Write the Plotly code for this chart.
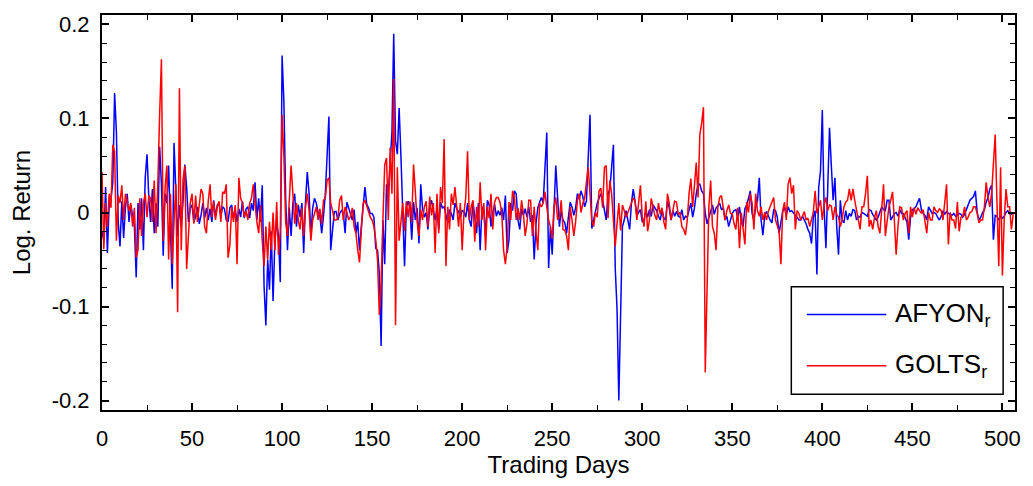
import plotly.graph_objects as go

# Daily log returns of the two stocks (trading day index starts at 0)
afyon_r = [
    -0.020, -0.030, 0.027, -0.043, 0.010, 0.015, 0.032, 0.127, 0.085, -0.010,
    -0.036, 0.012, -0.027, 0.005, 0.020, -0.010, 0.008, -0.005, -0.015, -0.069,
    0.010, -0.018, 0.015, -0.040, 0.037, 0.062, 0.015, -0.010, 0.025, -0.022,
    0.010, -0.015, 0.070, 0.030, -0.046, 0.020, 0.010, 0.050, -0.020, -0.081,
    0.074, 0.030, -0.025, 0.008, -0.015, 0.012, 0.051, 0.027, -0.010, 0.005,
    0.008, -0.010, -0.004, 0.006, -0.012, -0.003, 0.010, -0.006, 0.005, -0.008,
    0.004, -0.010, 0.013, -0.005, 0.008, 0.010, -0.004, 0.006, 0.004, -0.008,
    -0.010, 0.005, 0.008, -0.006, 0.003, -0.010, 0.004, -0.005, 0.012, -0.006,
    0.004, 0.006, -0.006, 0.010, 0.002, 0.032, -0.008, 0.015, -0.010, 0.029,
    -0.078, -0.120, -0.050, -0.082, -0.020, -0.094, -0.030, -0.010, -0.025, -0.074,
    0.167, 0.118, 0.015, -0.040, 0.005, -0.025, 0.010, 0.020, -0.015, 0.008,
    -0.005, 0.010, -0.043, 0.011, 0.043, 0.020, -0.025, 0.005, 0.015, 0.010,
    0.000, -0.004, -0.022, -0.004, 0.020, 0.060, 0.102, -0.040, -0.015, 0.001,
    0.001, -0.008, -0.001, 0.002, -0.001, -0.022, 0.011, 0.004, -0.003, -0.008,
    0.003, -0.022, -0.010, -0.040, -0.015, 0.010, 0.027, 0.009, 0.005, -0.001,
    -0.001, -0.005, -0.038, -0.040, -0.064, -0.142, -0.008, -0.055, 0.030, 0.020,
    0.050, 0.085, 0.190, 0.076, 0.062, 0.111, 0.060, 0.010, -0.057, 0.005,
    0.012, 0.005, -0.029, 0.011, -0.008, 0.005, -0.033, 0.030, 0.004, -0.005,
    0.000, -0.018, 0.006, 0.013, 0.002, -0.008, 0.004, -0.018, 0.011, 0.005,
    0.006, -0.004, -0.011, 0.003, -0.001, -0.008, 0.010, 0.004, 0.001, -0.005,
    0.002, 0.001, -0.005, 0.010, -0.008, -0.015, 0.011, -0.004, -0.022, 0.010,
    -0.040, 0.006, 0.004, -0.025, 0.013, 0.008, -0.015, -0.001, 0.009, -0.004,
    0.002, -0.003, 0.005, -0.008, 0.018, -0.043, -0.029, 0.010, 0.002, 0.023,
    0.020, -0.008, -0.018, 0.004, -0.003, 0.004, -0.005, 0.006, -0.010, -0.003,
    -0.050, -0.012, 0.005, 0.011, 0.016, 0.010, 0.055, 0.085, -0.059, -0.015,
    -0.045, -0.001, 0.050, 0.016, -0.015, 0.002, -0.008, -0.011, -0.022, -0.005,
    0.011, 0.006, -0.003, 0.005, 0.020, 0.014, 0.023, 0.017, 0.006, 0.012,
    0.053, 0.104, -0.017, -0.008, 0.003, 0.010, 0.015, 0.020, 0.013, 0.004,
    -0.008, 0.020, 0.025, 0.048, 0.072, -0.059, -0.102, -0.200, -0.090, -0.015,
    -0.008, 0.002, -0.008, -0.018, 0.010, 0.025, 0.012, -0.003, 0.000, 0.003,
    -0.010, -0.008, 0.002, -0.005, 0.003, -0.004, 0.008, 0.005, 0.002, -0.004,
    -0.008, 0.003, -0.006, -0.008, 0.012, 0.005, -0.008, 0.002, -0.004, 0.001,
    -0.004, -0.005, 0.003, -0.008, -0.004, -0.005, 0.002, 0.010, -0.005, 0.005,
    0.020, 0.030, 0.030, 0.023, 0.020, -0.001, -0.012, -0.005, 0.003, 0.008,
    -0.002, 0.005, 0.007, 0.010, 0.003, 0.005, -0.008, -0.004, -0.015, -0.008,
    -0.001, 0.002, 0.003, -0.005, 0.006, -0.010, -0.015, 0.004, 0.008, 0.015,
    0.023, -0.001, -0.008, 0.006, 0.013, 0.037, -0.008, -0.024, -0.004, 0.001,
    -0.004, -0.008, -0.011, 0.003, 0.002, -0.005, -0.022, -0.008, 0.001, 0.006,
    -0.003, 0.006, 0.001, 0.002, -0.001, -0.003, -0.005, -0.008, -0.008, -0.004,
    -0.008, -0.012, -0.018, -0.022, -0.033, -0.005, 0.002, -0.066, 0.027, 0.044,
    0.109, 0.005, -0.038, 0.034, 0.090, 0.050, 0.013, 0.037, -0.015, -0.045,
    0.013, -0.008, -0.011, 0.002, -0.008, -0.001, -0.004, 0.003, 0.002, -0.008,
    -0.004, -0.005, 0.000, -0.001, -0.003, -0.004, 0.003, 0.002, -0.002, -0.005,
    -0.008, -0.005, 0.000, 0.006, 0.003, 0.002, 0.013, 0.013, -0.008, -0.005,
    -0.001, 0.000, -0.004, 0.003, -0.001, -0.001, -0.005, -0.010, -0.029, -0.005,
    0.003, 0.005, 0.006, 0.011, 0.015, 0.003, -0.001, -0.003, -0.008, 0.006,
    0.003, -0.001, 0.000, -0.001, -0.005, -0.008, -0.004, 0.002, -0.002, 0.001,
    -0.001, -0.002, -0.003, -0.001, -0.004, -0.003, -0.001, -0.002, -0.005, -0.002,
    0.003, 0.009, 0.013, 0.015, 0.017, 0.023, 0.000, -0.008, -0.005, 0.000,
    0.003, 0.011, 0.016, 0.025, 0.029, -0.029, -0.003, -0.004, -0.008, -0.004,
    -0.006, -0.004, 0.000, 0.002, -0.001, -0.002, -0.001,
]

golts_r = [
    0.043, -0.039, 0.010, -0.015, 0.020, 0.005, 0.072, 0.065, -0.030, 0.018,
    0.010, 0.029, -0.008, 0.020, 0.012, 0.002, 0.010, -0.015, 0.005, -0.048,
    -0.040, 0.015, -0.025, 0.010, 0.020, -0.005, 0.018, 0.015, -0.010, 0.034,
    -0.022, 0.030, 0.104, 0.163, -0.030, 0.025, 0.050, -0.050, 0.020, -0.055,
    -0.010, 0.030, -0.106, 0.132, -0.040, 0.035, 0.050, -0.060, -0.025, 0.010,
    0.020, -0.012, 0.018, -0.010, 0.008, 0.025, 0.020, -0.015, -0.022, 0.012,
    0.030, -0.005, 0.012, -0.008, 0.006, 0.012, -0.010, 0.022, 0.020, 0.030,
    -0.048, -0.035, 0.006, -0.010, 0.008, -0.055, 0.037, 0.015, 0.010, -0.005,
    0.002, -0.008, 0.010, 0.015, 0.030, 0.005, -0.010, -0.022, 0.008, -0.030,
    -0.057, -0.015, -0.050, -0.010, -0.040, 0.000, -0.040, 0.011, -0.045, -0.020,
    0.104, 0.060, -0.010, -0.025, 0.015, 0.050, 0.020, -0.012, 0.010, -0.008,
    -0.018, 0.005, -0.025, 0.006, 0.020, 0.002, -0.030, -0.008, -0.001, 0.006,
    -0.008, 0.004, -0.012, 0.013, 0.015, 0.034, 0.037, 0.010, 0.002, -0.008,
    -0.008, -0.006, 0.013, 0.018, -0.008, 0.006, 0.000, -0.008, -0.004, 0.005,
    -0.015, -0.022, -0.040, -0.053, -0.019, 0.009, 0.013, 0.006, 0.002, -0.005,
    -0.008, -0.015, -0.029, -0.050, -0.109, -0.074, -0.008, 0.051, 0.058, -0.008,
    0.069, 0.020, 0.142, -0.120, 0.048, -0.030, -0.010, 0.010, -0.020, 0.012,
    -0.005, 0.012, -0.010, 0.051, 0.022, -0.010, -0.025, 0.003, -0.008, 0.006,
    0.012, -0.015, 0.017, -0.003, 0.010, -0.043, 0.020, -0.022, 0.027, 0.010,
    0.078, -0.057, 0.006, -0.018, 0.020, 0.008, 0.027, 0.006, -0.015, 0.010,
    -0.040, 0.000, 0.016, 0.065, -0.008, 0.006, 0.013, -0.031, 0.006, -0.015,
    0.032, -0.008, 0.010, -0.040, 0.006, -0.006, 0.020, -0.018, 0.011, 0.016,
    0.016, 0.011, -0.001, -0.040, -0.055, -0.036, 0.011, -0.008, 0.023, 0.016,
    -0.008, 0.005, -0.008, 0.013, -0.001, -0.025, -0.012, 0.013, 0.013, -0.025,
    0.006, -0.020, -0.040, 0.010, 0.006, 0.010, 0.022, 0.006, -0.008, -0.015,
    -0.028, 0.006, 0.016, -0.008, -0.005, 0.013, -0.018, -0.019, -0.025, -0.040,
    0.006, -0.008, -0.025, -0.010, 0.013, 0.020, 0.000, 0.010, 0.015, 0.032,
    0.048, 0.020, -0.008, -0.015, 0.000, -0.005, 0.023, 0.026, 0.005, 0.048,
    0.050, -0.006, 0.034, 0.020, -0.010, -0.036, -0.012, 0.010, -0.019, 0.008,
    0.002, -0.005, 0.000, 0.006, 0.010, 0.015, 0.013, -0.008, 0.013, 0.029,
    -0.005, -0.015, 0.012, -0.020, -0.008, 0.015, 0.006, -0.003, -0.008, 0.010,
    -0.002, 0.005, -0.010, -0.018, 0.020, 0.010, -0.008, 0.002, 0.012, 0.011,
    -0.002, 0.000, -0.015, -0.018, -0.024, -0.008, 0.020, 0.036, 0.006, 0.029,
    0.053, 0.016, 0.083, 0.095, 0.112, -0.170, -0.088, 0.006, 0.034, -0.015,
    -0.022, -0.040, 0.006, 0.016, 0.018, 0.006, -0.008, 0.002, 0.008, -0.001,
    -0.001, -0.012, -0.018, 0.005, -0.038, 0.000, -0.015, -0.034, 0.011, 0.000,
    0.020, 0.010, -0.018, 0.020, 0.002, -0.004, 0.006, -0.008, 0.000, -0.008,
    0.001, 0.006, 0.011, 0.016, -0.008, -0.015, -0.020, -0.055, 0.002, 0.011,
    -0.008, 0.030, 0.037, 0.020, 0.029, -0.018, 0.002, -0.001, -0.008, -0.004,
    0.001, -0.008, -0.006, -0.015, -0.008, 0.000, 0.023, -0.001, 0.006, 0.013,
    -0.008, 0.008, 0.016, 0.002, 0.008, 0.007, -0.008, 0.006, -0.002, -0.005,
    -0.015, -0.008, 0.006, 0.011, 0.013, 0.025, 0.013, 0.025, 0.013, 0.002,
    -0.008, -0.018, 0.006, 0.006, 0.020, 0.039, -0.015, -0.008, -0.018, -0.005,
    0.002, -0.015, -0.022, 0.001, 0.030, -0.025, -0.008, 0.006, 0.013, 0.022,
    -0.008, -0.045, -0.015, 0.006, 0.005, -0.008, -0.001, 0.002, -0.022, 0.006,
    -0.005, 0.005, -0.002, 0.005, 0.002, -0.001, 0.003, -0.012, -0.022, 0.000,
    -0.008, -0.008, 0.006, 0.002, 0.000, 0.004, 0.002, -0.008, 0.015, 0.030,
    -0.034, 0.000, -0.008, -0.008, -0.017, 0.011, -0.020, -0.005, -0.004, 0.006,
    -0.008, -0.005, 0.000, 0.001, 0.006, 0.006, -0.001, -0.011, -0.008, -0.008,
    0.006, 0.032, 0.016, 0.006, 0.020, 0.055, 0.083, 0.009, -0.057, 0.048,
    -0.067, -0.008, 0.025, 0.006, 0.006, -0.018, -0.002,
]

assert len(afyon_r) == len(golts_r), (len(afyon_r), len(golts_r))
days = list(range(len(afyon_r)))

y_ticks = [-0.2, -0.1, 0.0, 0.1, 0.2]
y_tick_text = ["-0.2", "-0.1", "0", "0.1", "0.2"]
x_ticks = [0, 50, 100, 150, 200, 250, 300, 350, 400, 450, 500]

series = [
    ("AFYON", afyon_r, "#0000FF"),
    ("GOLTS", golts_r, "#FF0000"),
]

FONT = "Liberation Sans, Arial, sans-serif"

fig = go.Figure()
for name, values, color in series:
    fig.add_trace(go.Scatter(
        x=days, y=values, mode="lines", name=name,
        line=dict(color=color, width=1.5),
        showlegend=False,
    ))

axis_common = dict(
    showline=True, linecolor="#000", linewidth=2, mirror="allticks",
    ticks="inside", ticklen=7, tickwidth=1.5, tickcolor="#000",
    showgrid=False, zeroline=False,
    tickfont=dict(family=FONT, size=22, color="#000"),
)

fig.update_xaxes(
    range=[0, 507], tickvals=x_ticks,
    minor=dict(ticks="inside", ticklen=5, tickwidth=1.2, dtick=25, tick0=0, tickcolor="#000"),
    title=dict(text="Trading Days", font=dict(family=FONT, size=24, color="#000"), standoff=6),
    ticklabelstandoff=8,
    **axis_common,
)
fig.update_yaxes(
    range=[-0.21, 0.21], tickvals=y_ticks, ticktext=y_tick_text,
    minor=dict(ticks="inside", ticklen=5, tickwidth=1.2, dtick=0.02, tick0=0, tickcolor="#000"),
    title=dict(text="Log. Return", font=dict(family=FONT, size=24, color="#000"), standoff=14),
    ticklabelstandoff=6,
    **axis_common,
)

# Legend box drawn in paper coordinates inside the plot area
legend_box = dict(x0=0.755, x1=0.987, y0=0.040, y1=0.312)
entries = [("AFYON", "#0000FF", 0.242), ("GOLTS", "#FF0000", 0.112)]
shapes = [dict(type="rect", xref="paper", yref="paper",
               fillcolor="#FFFFFF", line=dict(color="#000", width=1.5), **legend_box)]
annotations = []
for name, color, ypos in entries:
    shapes.append(dict(type="line", xref="paper", yref="paper",
                       x0=0.772, x1=0.859, y0=ypos, y1=ypos,
                       line=dict(color=color, width=1.5)))
    annotations.append(dict(xref="paper", yref="paper", x=0.866, y=ypos,
                            xanchor="left", yanchor="middle", showarrow=False,
                            text=f"{name}<sub>r</sub>",
                            font=dict(family=FONT, size=26, color="#000")))

fig.update_layout(
    width=1033, height=486,
    margin=dict(l=102, r=16, t=12, b=73),
    paper_bgcolor="#FFFFFF", plot_bgcolor="#FFFFFF",
    shapes=shapes, annotations=annotations,
)

fig.write_html("out.html")
